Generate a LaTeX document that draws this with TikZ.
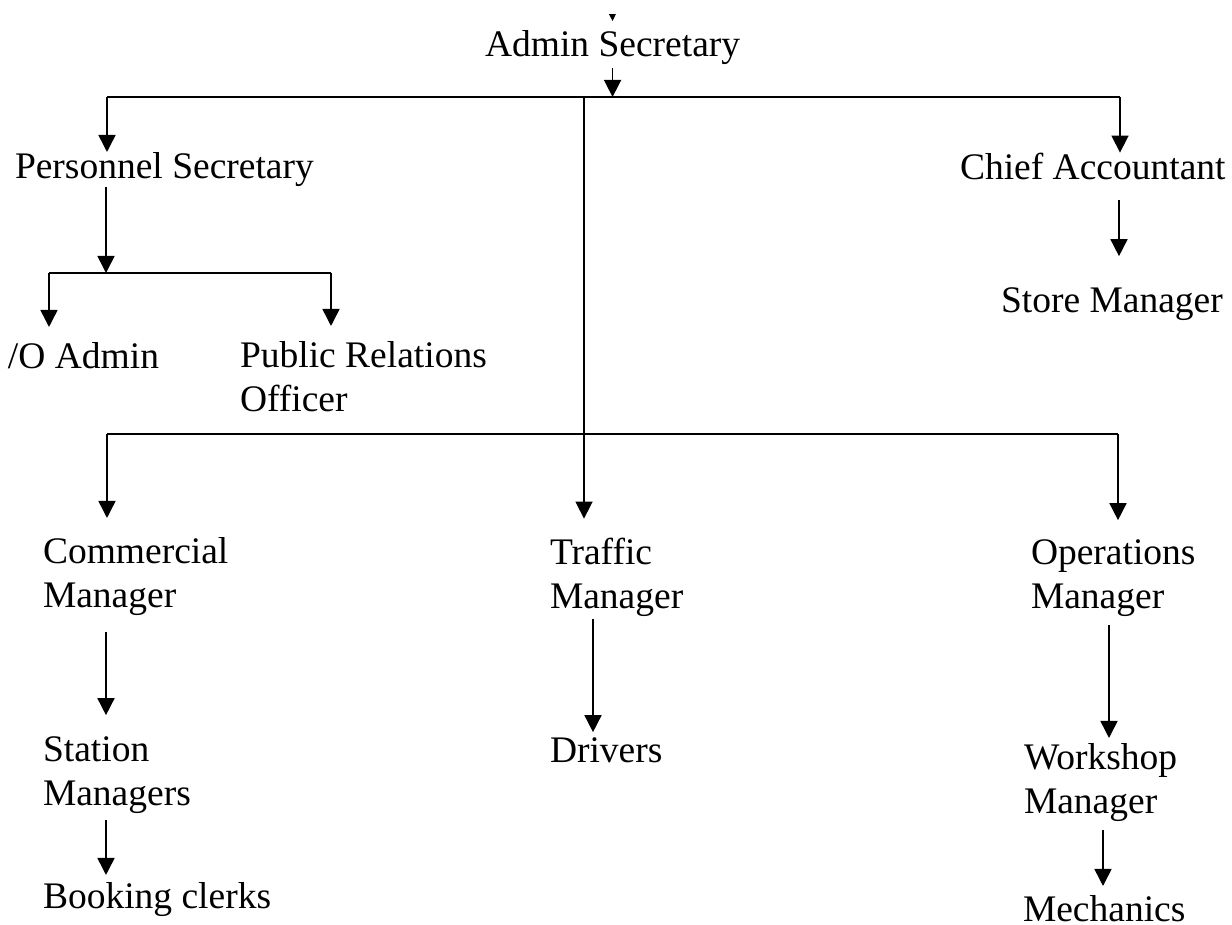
\documentclass[tikz,border=0pt]{standalone}
\usepackage{fontspec}
\setmainfont{Liberation Serif}
\usetikzlibrary{arrows.meta,calc}
\begin{document}
\begin{tikzpicture}[x=1pt,y=-1pt,
  lbl/.style={anchor=base west,inner sep=0pt,outer sep=0pt,align=left,
    font=\fontsize{37.5pt}{44pt}\selectfont},
  wire/.style={line width=1.6pt,draw=black},
  arr/.style={wire,-{Triangle[length=17pt,width=17pt]}}]
\useasboundingbox (0,0) rectangle (1232,925);
\fill[white] (0,0) rectangle (1232,925);

% positions (two-line labels are placed by the baseline of their last line)
\node[lbl] (admin) at (485,57) {Admin Secretary};
\node[lbl] (ps) at (15,179) {Personnel Secretary};
\node[lbl] (ca) at (960,180) {Chief Accountant};
\node[lbl] (sm) at (1001,313) {Store Manager};
\node[lbl] (io) at (8,368) {/O Admin};
\node[lbl] (pro) at (240,411) {Public Relations\\Officer};
\node[lbl] (cm) at (43,607) {Commercial\\Manager};
\node[lbl] (tm) at (550,608) {Traffic\\Manager};
\node[lbl] (om) at (1031,608) {Operations\\Manager};
\node[lbl] (stm) at (43,805) {Station\\Managers};
\node[lbl] (dr) at (550,762) {Drivers};
\node[lbl] (wm) at (1024,813) {Workshop\\Manager};
\node[lbl] (bc) at (43,908) {Booking clerks};
\node[lbl] (mech) at (1023,921) {Mechanics};

% junction points of the buses
\coordinate (in) at (612,-10);
\coordinate (hubA) at ($(admin.base)+(0,40)$);
\coordinate (bL) at (107,97);
\coordinate (bM) at (584,97);
\coordinate (bR) at (1120,97);
\coordinate (cL) at (107,434);
\coordinate (cR) at (1118,434);
\coordinate (pj) at (106,273);
\coordinate (pL) at (49,273);
\coordinate (pR) at (331,273);
\coordinate (caX) at (1119,0);
\coordinate (cmX) at (106,0);
\coordinate (tmX) at (593,0);
\coordinate (omX) at (1109,0);
\coordinate (wmX) at (1103,0);

% incoming line from above
\begin{scope}
  \clip (0,15) rectangle (1232,40);
  \draw[arr] (in) -- ($(admin.north)+(0,-10)$);
\end{scope}
\draw[arr] ($(admin.south)+(0,3)$) -- (hubA);

% top bus
\draw[wire] (bL) -- (bR);
\draw[arr] (bL) -- ($(bL |- ps.north)+(0,-1)$);
\draw[arr] (bR) -- ($(bR |- ca.north)+(0,-1)$);
\draw[arr] (bM) -- ($(bM |- tm.north)+(0,-19)$);

% personnel branch
\draw[arr] (ps.south -| pj) -- (pj);
\draw[wire] (pL) -- (pR);
\draw[arr] (pL) -- ($(pL |- io.north)+(0,-15)$);
\draw[arr] (pR) -- ($(pR |- pro.north)+(0,-15)$);

% accounts branch
\draw[arr] ($(caX |- ca.south)+(0,20)$) -- ($(caX |- sm.north)+(0,-32)$);

% lower bus
\draw[wire] (cL) -- (cR);
\draw[arr] (cL) -- ($(cL |- cm.north)+(0,-19)$);
\draw[arr] (cR) -- ($(cR |- om.north)+(0,-19)$);

% lower chains
\draw[arr] ($(cmX |- cm.south)+(0,17)$) -- ($(cmX |- stm.north)+(0,-21)$);
\draw[arr] ($(cmX |- stm.south)+(0,7)$) -- ($(cmX |- bc.north)+(0,-7)$);
\draw[arr] ($(tmX |- tm.south)+(0,3)$) -- ($(tmX |- dr.north)+(0,-5)$);
\draw[arr] ($(omX |- om.south)+(0,9)$) -- ($(omX |- wm.north)+(0,-5)$);
\draw[arr] ($(wmX |- wm.south)+(0,9)$) -- ($(wmX |- mech.north)+(0,-9)$);
\end{tikzpicture}
\end{document}
